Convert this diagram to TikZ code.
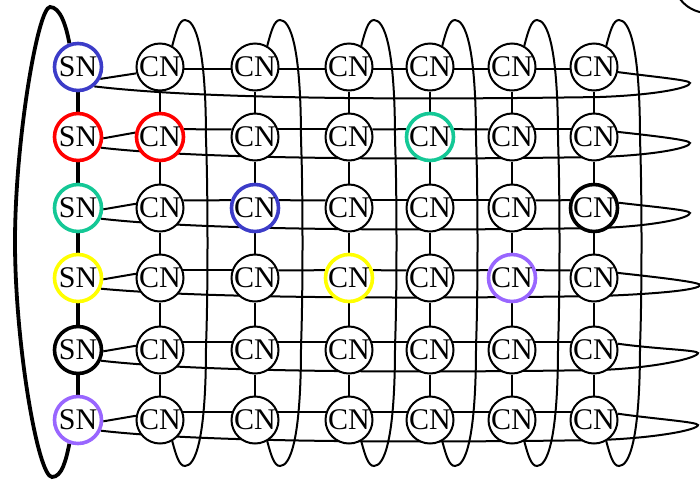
\documentclass[tikz,border=0pt]{standalone}
\usepackage{fontspec}
\setmainfont{Liberation Serif}
\usetikzlibrary{backgrounds}
\definecolor{nblue}{HTML}{3C3CC8}
\definecolor{nteal}{HTML}{14C896}
\definecolor{npurple}{HTML}{9966FF}
\definecolor{nyellow}{HTML}{FFFF00}
\definecolor{nred}{HTML}{FF0000}
\begin{document}
\begin{tikzpicture}[x=1pt,y=-1pt,
  nd/.style={circle,draw=black,fill=white,line width=2pt,minimum size=47pt,inner sep=0pt,font=\fontsize{30}{30}\selectfont},
  hl/.style={nd,line width=3.6pt,draw=#1},
  ed/.style={line width=2pt},
  sned/.style={line width=3.8pt}]
\useasboundingbox (0,0) rectangle (700,480);
% nodes
\foreach \y/\col [count=\r] in {67/nblue,137/nred,208/nteal,278/nyellow,350/black,420/npurple} {
  \node[hl=\col] (s\r) at (78,\y) {\makebox[0pt]{SN}};
  \foreach \x [count=\k from 2] in {160,255,349,430,512,594}
    \node[nd] (c\r-\k) at (\x,\y) {\makebox[0pt]{CN}};
}
\node[hl=nred]    (c2-2) at (160,137) {\makebox[0pt]{CN}};
\node[hl=nteal]   (c2-5) at (430,137) {\makebox[0pt]{CN}};
\node[hl=nblue]   (c3-3) at (255,208) {\makebox[0pt]{CN}};
\node[hl=black]   (c3-7) at (594,208) {\makebox[0pt]{CN}};
\node[hl=nyellow] (c4-4) at (349,278) {\makebox[0pt]{CN}};
\node[hl=npurple] (c4-6) at (512,278) {\makebox[0pt]{CN}};
% edges
\begin{scope}[on background layer]
\clip (0,0) rectangle (700,480);
% vertical edges
\foreach \r [evaluate=\r as \rn using int(\r+1)] in {1,...,5} {
  \draw[sned] (s\r) -- (s\rn);
  \foreach \k in {2,...,7}
    \draw[ed] (c\r-\k) -- (c\rn-\k);
}
% horizontal edges
\draw[ed] (s1.-28) -- (c1-2.195);
\foreach \k [evaluate=\k as \kn using int(\k+1)] in {2,...,6}
  \draw[ed] (c1-\k.-5) -- (c1-\kn.185);
\foreach \r in {2,...,6} {
  \draw[ed] (s\r.-3) -- (c\r-2.170);
  \foreach \k [evaluate=\k as \kn using int(\k+1)] in {2,...,6}
    \draw[ed] (c\r-\k.18) -- (c\r-\kn.162);
}
% vertical wrap loops
\draw[sned] (s1.110) .. controls (66,25) and (60,7) .. (50,7)
  .. controls (38,7) and (15,140) .. (15,242)
  .. controls (15,344) and (38,477) .. (52,477)
  .. controls (62,477) and (66,460) .. (s6.-110);
\foreach \X [count=\k from 2] in {160,255,349,430,512,594}
  \draw[ed] (c1-\k.60) .. controls (\X+16,32) and (\X+19,20) .. (\X+25,20)
    .. controls (\X+35,20) and (\X+46,45) .. (\X+46,140)
    .. controls (\X+48,190) and (\X+48,296) .. (\X+46,346)
    .. controls (\X+46,441) and (\X+35,466) .. (\X+25,466)
    .. controls (\X+19,466) and (\X+16,455) .. (c6-\k.-60);
% horizontal wrap loops
\foreach \y/\L/\TX/\dt/\a/\b/\u [count=\r] in
  {67/32/690/16/-50/-12/10, 137/22/690/6/-25/12/-1, 208/22/690/5/-25/12/-1,
   278/20/700/7/-25/12/-1, 350/22/698/3/-25/15/-1, 420/22/698/5/-25/15/-1}
  \draw[ed] (s\r.\a) .. controls (200,\y+\L) and (400,\y+\L+1) .. (600,\y+\L-2)
    .. controls (655,\y+\L-4) and (\TX,\y+\dt+5) .. (\TX,\y+\dt)
    .. controls (\TX,\y+\dt-3) and (655,\y+\u) .. (c\r-7.\b);
\end{scope}
\begin{scope}
\clip (0,0) rectangle (700,480);
\draw[ed] (708,-22) circle[radius=35pt];
\end{scope}
\end{tikzpicture}
\end{document}
